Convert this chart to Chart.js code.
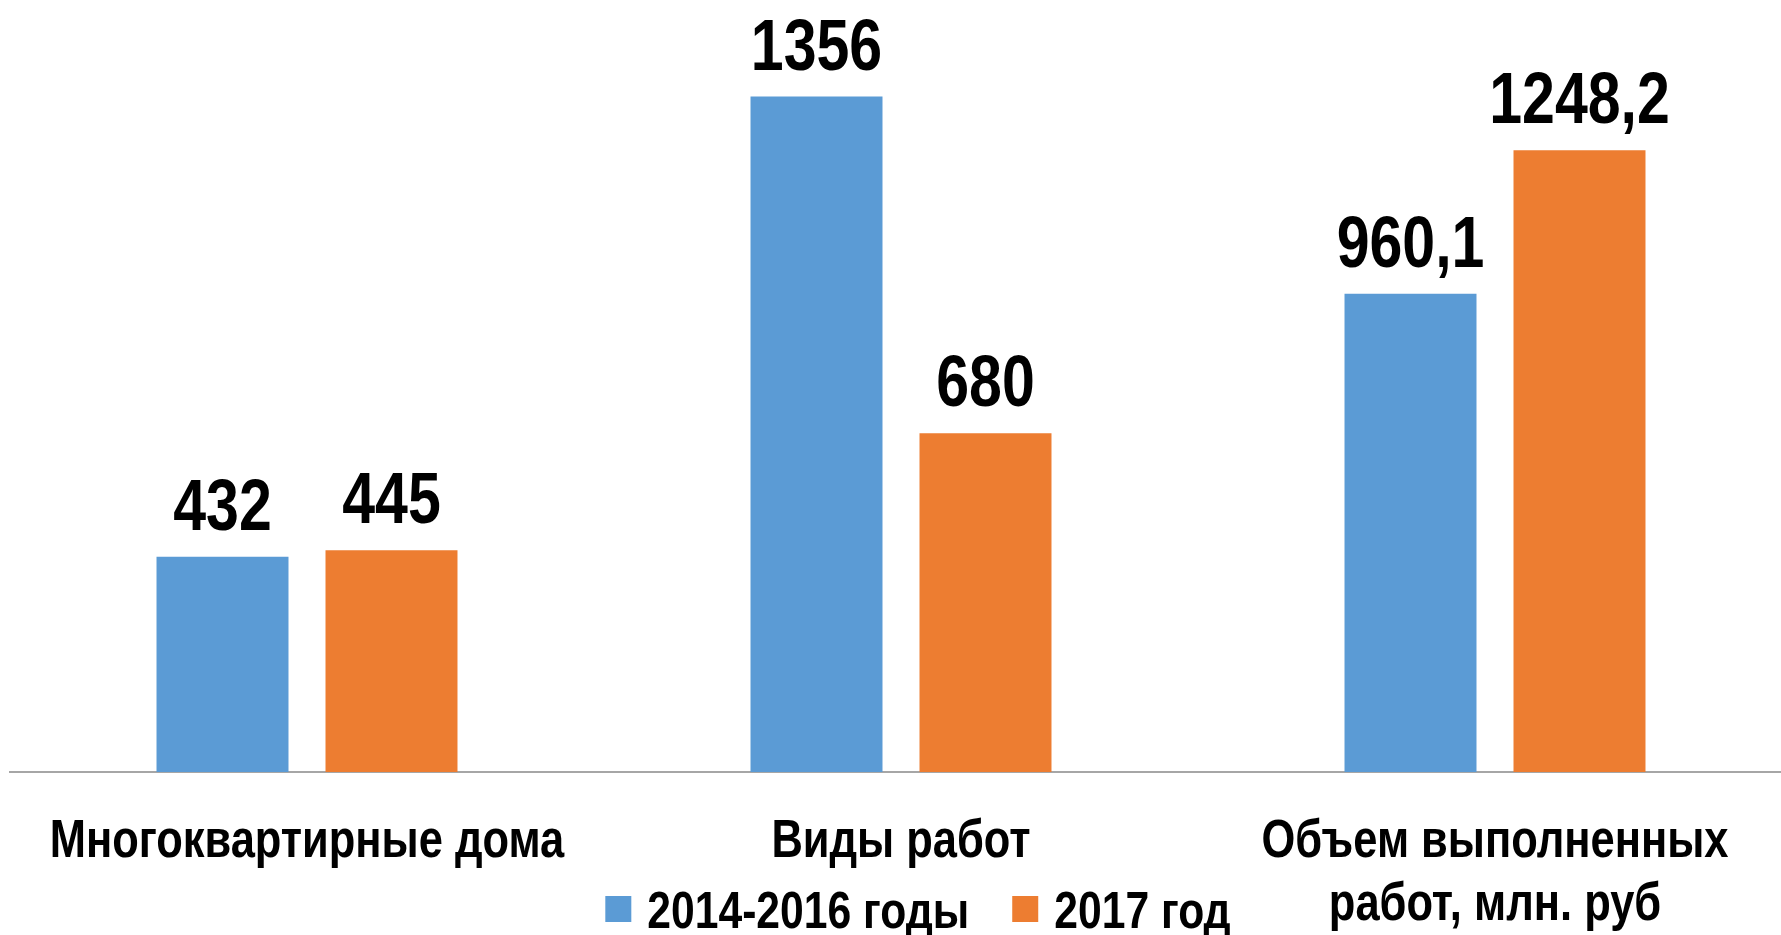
<!DOCTYPE html>
<html lang="ru">
<head>
<meta charset="UTF-8">
<title>Капитальный ремонт</title>
<script src="https://cdn.jsdelivr.net/npm/chart.js"></script>
<style>
  html, body { margin: 0; padding: 0; background: #fff; overflow: hidden; }
  #wrap { width: 1792px; height: 935px; position: relative; }
</style>
</head>
<body>
<div id="wrap"><canvas id="repairChart"></canvas></div>
<script>
// data
const categories = ["Многоквартирные дома", "Виды работ", ["Объем выполненных", "работ, млн. руб"]];
const seriesNames = ["2014-2016 годы", "2017 год"];
const values2014_2016 = [432, 1356, 960.1];
const values2017 = [445, 680, 1248.2];
const seriesColors = ["#5B9BD5", "#ED7D31"];

// no Arial Narrow here: use Liberation Sans (Arial metrics) squeezed horizontally
const FONT = '"Liberation Sans", Arial, sans-serif';
const NARROW = 0.82;

function narrowText(ctx, text, x, y, align) {
  ctx.save();
  ctx.translate(x, y);
  ctx.scale(NARROW, 1);
  ctx.textAlign = align;
  ctx.fillText(text, 0, 0);
  ctx.restore();
}

// value labels above the bars, decimal comma like the original
const valueLabels = {
  id: "valueLabels",
  afterDatasetsDraw(chart) {
    const ctx = chart.ctx;
    ctx.save();
    ctx.font = "bold 72px " + FONT;
    ctx.fillStyle = "#000";
    ctx.textBaseline = "alphabetic";
    chart.data.datasets.forEach((ds, i) => {
      chart.getDatasetMeta(i).data.forEach((bar, j) => {
        narrowText(ctx, String(ds.data[j]).replace(".", ","), bar.x, bar.y - 27, "center");
      });
    });
    ctx.restore();
  }
};

// category labels, drawn at the x scale's tick positions
const categoryLabels = {
  id: "categoryLabels",
  afterDraw(chart) {
    const ctx = chart.ctx;
    const xs = chart.scales.x;
    ctx.save();
    ctx.font = "bold 53px " + FONT;
    ctx.fillStyle = "#000";
    ctx.textBaseline = "middle";
    chart.data.labels.forEach((lab, i) => {
      const lines = Array.isArray(lab) ? lab : [lab];
      const x = xs.getPixelForTick(i);
      lines.forEach((ln, k) => narrowText(ctx, ln, x, xs.top + 70 + k * 63, "center"));
    });
    ctx.restore();
  }
};

// legend drawn by hand so it can sit beside the two-line label
const bottomLegend = {
  id: "bottomLegend",
  afterDraw(chart, args, opts) {
    const ctx = chart.ctx;
    ctx.save();
    ctx.font = "bold 52px " + FONT;
    ctx.textBaseline = "alphabetic";
    const box = 26, gapText = 16, gapItem = 43;
    const items = chart.data.datasets.map(ds => ({
      label: ds.label, color: ds.backgroundColor, w: ctx.measureText(ds.label).width * NARROW
    }));
    let total = 0;
    items.forEach((it, i) => { total += box + gapText + it.w + (i ? gapItem : 0); });
    let x = opts.centerX - total / 2;
    items.forEach(it => {
      ctx.fillStyle = it.color;
      ctx.fillRect(x, opts.y - box / 2, box, box);
      x += box + gapText;
      ctx.fillStyle = "#000";
      narrowText(ctx, it.label, x, opts.y + 19, "left");
      x += it.w + gapItem;
    });
    ctx.restore();
  }
};

new Chart(document.getElementById("repairChart"), {
  type: "bar",
  data: {
    labels: categories,
    datasets: [
      { label: seriesNames[0], data: values2014_2016, backgroundColor: seriesColors[0] },
      { label: seriesNames[1], data: values2017, backgroundColor: seriesColors[1] }
    ]
  },
  options: {
    responsive: true,
    maintainAspectRatio: false,
    animation: false,
    categoryPercentage: 0.569,
    barPercentage: 0.781,
    layout: { padding: { left: 10, right: 0, top: 0, bottom: 0 } },
    plugins: {
      legend: { display: false },
      tooltip: { enabled: false },
      bottomLegend: { centerX: 918, y: 909 }
    },
    scales: {
      x: {
        grid: { display: false },
        border: { display: true, color: "#A6A6A6", width: 2 },
        ticks: { display: false },
        afterFit(scale) {
          scale.height = 163;
          scale.paddingLeft = 0;
          scale.paddingRight = 0;
        }
      },
      y: {
        display: false,
        min: 0,
        max: 1550
      }
    }
  },
  plugins: [valueLabels, categoryLabels, bottomLegend]
});
</script>
</body>
</html>
